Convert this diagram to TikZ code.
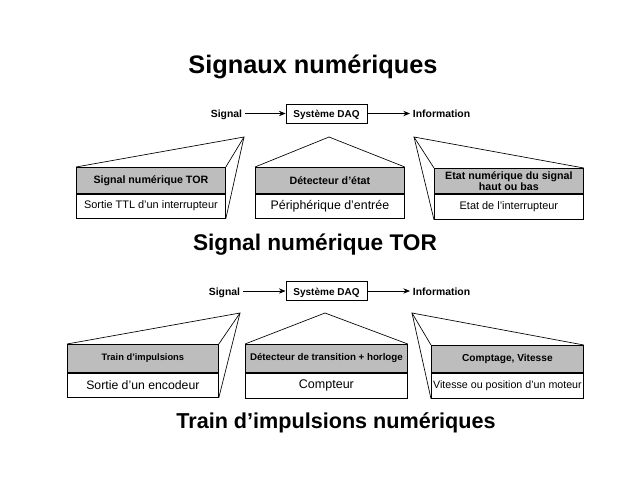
\documentclass[tikz,border=0pt]{standalone}
\usepackage{fontspec}
\setmainfont{Liberation Sans}
\usetikzlibrary{arrows.meta}
\begin{document}
\begin{tikzpicture}[x=0.75pt,y=-0.75pt,
  hdr/.style={draw, line width=0.6pt, fill=black!26, anchor=north west, inner sep=0pt, align=center, font=\bfseries\fontsize{8}{9}\selectfont},
  bodybox/.style={draw, line width=0.6pt, fill=white, anchor=north west, inner sep=0pt, align=center, font=\fontsize{8.2}{10}\selectfont},
  edge/.style={line width=0.5pt},
  divider/.style={line width=1.1pt},
  arr/.style={line width=0.6pt, -{Stealth[length=5pt,width=4pt]}},
  small/.style={font=\bfseries\fontsize{7.8}{9}\selectfont, inner sep=2pt, text height=1.6ex, text depth=0.4ex},
  daqbox/.style={draw, line width=0.6pt, minimum width=81*0.75pt, minimum height=19*0.75pt, inner sep=0pt, text height=1.6ex, text depth=0.4ex, font=\bfseries\fontsize{7.5}{9}\selectfont},
  bigtitle/.style={font=\bfseries\fontsize{19}{22}\selectfont, anchor=base},
  subtitle/.style={font=\bfseries\fontsize{17}{20}\selectfont, anchor=base}
]
\useasboundingbox (0,0) rectangle (638,479);
\fill[white] (0,0) rectangle (638,479);

% ---------- titles ----------
\node[bigtitle] (t0) at (313,73) {Signaux numériques};
\node[subtitle] (t1) at (315,250) {Signal numérique TOR};
\node[subtitle, font=\bfseries\fontsize{16.2}{20}\selectfont] (t2) at (336,428) {Train d'impulsions numériques};

% ---------- top chain ----------
\node[daqbox] (daqA) at (326.5,113.5) {Système DAQ};
\node[small, anchor=east] (sigA) at (245,113.5) {Signal};
\node[small, anchor=west] (infA) at (410,113.5) {Information};
\draw[arr] (sigA) -- (daqA);
\draw[arr] (daqA) -- (infA);

% ---------- top modules ----------
\node[hdr, minimum width=149*0.75pt, minimum height=26*0.75pt] (h1) at (76,167) {Signal numérique TOR};
\node[bodybox, minimum width=149*0.75pt, minimum height=25*0.75pt] (b1) at (76,193) {Sortie TTL d'un interrupteur};
\node[hdr, minimum width=149*0.75pt, minimum height=26*0.75pt] (h2) at (255,167) {Détecteur d'état};
\node[bodybox, minimum width=149*0.75pt, minimum height=25*0.75pt, font=\fontsize{9.3}{11}\selectfont] (b2) at (255,193) {Périphérique d'entrée};
\node[hdr, minimum width=149*0.75pt, minimum height=25*0.75pt, font=\bfseries\fontsize{8}{8.6}\selectfont] (h3) at (434,168) {Etat numérique du signal\\haut ou bas};
\node[bodybox, minimum width=149*0.75pt, minimum height=26*0.75pt] (b3) at (434,193) {Etat de l'interrupteur};

\draw[divider] (h1.south west) -- (h1.south east);
\draw[divider] (h2.south west) -- (h2.south east);
\draw[divider] (h3.south west) -- (h3.south east);

\coordinate (a1) at (244,137);
\coordinate (a2) at (329,137);
\coordinate (a3) at (414,137);
\draw[edge] (h1.north west) -- (a1) -- (h1.north east);
\draw[edge] (a1) -- (b1.south east);
\draw[edge] (h2.north west) -- (a2) -- (h2.north east);
\draw[edge] (h3.north east) -- (a3) -- (h3.north west);
\draw[edge] (a3) -- (b3.south west);

% ---------- bottom chain ----------
\node[daqbox] (daqB) at (326.5,291) {Système DAQ};
\node[small, anchor=east] (sigB) at (243,291) {Signal};
\node[small, anchor=west] (infB) at (410,291) {Information};
\draw[arr] (sigB) -- (daqB);
\draw[arr] (daqB) -- (infB);

% ---------- bottom modules ----------
\node[hdr, minimum width=151*0.75pt, minimum height=28*0.75pt, font=\bfseries\fontsize{7}{8}\selectfont] (h4) at (67,344) {Train d'impulsions};
\node[bodybox, minimum width=151*0.75pt, minimum height=25*0.75pt, font=\fontsize{9.2}{11}\selectfont] (b4) at (67,372) {Sortie d'un encodeur};
\node[hdr, minimum width=162*0.75pt, minimum height=28*0.75pt, font=\bfseries\fontsize{7.3}{8}\selectfont] (h5) at (245,344) {Détecteur de transition + horloge};
\node[bodybox, minimum width=162*0.75pt, minimum height=26*0.75pt, font=\fontsize{9.4}{11}\selectfont] (b5) at (245,372) {Compteur};
\node[hdr, minimum width=152*0.75pt, minimum height=27*0.75pt, font=\bfseries\fontsize{7.6}{8}\selectfont] (h6) at (431,345) {Comptage, Vitesse};
\node[bodybox, minimum width=152*0.75pt, minimum height=26*0.75pt, font=\fontsize{8}{10}\selectfont] (b6) at (431,372) {Vitesse ou position d'un moteur};

\draw[divider] (h4.south west) -- (h4.south east);
\draw[divider] (h5.south west) -- (h5.south east);
\draw[divider] (h6.south west) -- (h6.south east);

\coordinate (a4) at (240,313);
\coordinate (a5) at (325,313);
\coordinate (a6) at (412,313);
\draw[edge] (h4.north west) -- (a4) -- (h4.north east);
\draw[edge] (a4) -- (b4.south east);
\draw[edge] (h5.north west) -- (a5) -- (h5.north east);
\draw[edge] (h6.north east) -- (a6) -- (h6.north west);
\draw[edge] (a6) -- (b6.south west);
\end{tikzpicture}
\end{document}
